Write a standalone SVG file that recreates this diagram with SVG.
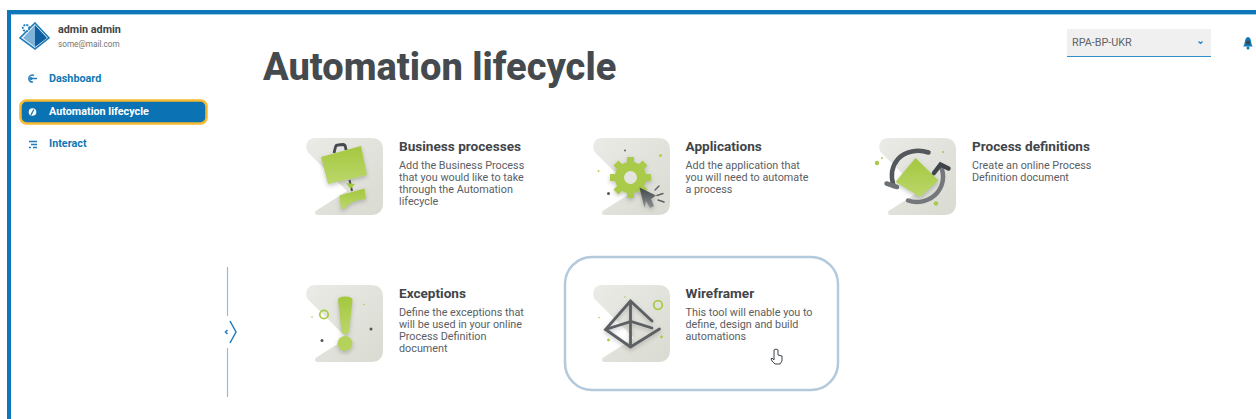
<svg xmlns="http://www.w3.org/2000/svg" width="1256" height="419" viewBox="0 0 1256 419">
<defs>
<linearGradient id="tile" x1="0" y1="0" x2="1" y2="1"><stop offset="0" stop-color="#ebebe7"/><stop offset="1" stop-color="#d9dad1"/></linearGradient>
<linearGradient id="green" x1="0" y1="0" x2="0" y2="1"><stop offset="0" stop-color="#a4c73e"/><stop offset="1" stop-color="#bbd76b"/></linearGradient>
<linearGradient id="dark" x1="0" y1="0" x2="0" y2="1"><stop offset="0" stop-color="#3f4448"/><stop offset="1" stop-color="#8f9294"/></linearGradient>
<filter id="sh" x="-30%" y="-30%" width="160%" height="160%"><feDropShadow dx="0" dy="2" stdDeviation="2" flood-color="#555" flood-opacity="0.35"/></filter>
<path id="tileshape" d="M8.500 0H65Q77 0 77 12V65Q77 77 65 77H12.500Q7.500 77 9.500 73L41 53L1.500 14Q-0.500 10 0.500 6Q2.500 0 8.500 0Z" fill="url(#tile)"/>
</defs>
<style>
text{font-family:Roboto,"Liberation Sans",sans-serif}
.h{font-size:13.6px;font-weight:700;fill:#3f4549}
.d{font-size:10.8px;fill:#5a6064}
.nav{font-size:10.8px;font-weight:700;fill:#0f77b5}
</style>
<rect width="1256" height="419" fill="#fff"/>
<g id="frame"><rect x="7" y="10" width="1249" height="4" fill="#0f77b9"/><rect x="11" y="14" width="1245" height="1" fill="#9fcbe6"/><rect x="7" y="10" width="4" height="409" fill="#0f77b9"/></g>
<g id="user">
<path d="M35 23L49 38L35 49L20 38Z" fill="#fff" stroke="#1f7dbb" stroke-width="1.600"/>
<path d="M35 25L23 38L35 47Z" fill="#7fb3da"/><path d="M35 25L47 38L35 47Z" fill="#0d5f9f"/>
<circle cx="26" cy="28" r="3.200" fill="#fff" stroke="#1f7dbb" stroke-width="1.800" stroke-dasharray="2 1"/>
<text x="58" y="33" font-size="10.800" font-weight="700" fill="#3f4549">admin admin</text>
<text x="58" y="47" font-size="8.200" fill="#6d7275">some@mail.com</text>
</g>
<g id="nav-dashboard"><path d="M37 78.500H31M34 75.500A3.500 3.500 0 1 0 33 82" fill="none" stroke="#1f7dbb" stroke-width="1.500"/><circle cx="31" cy="78.500" r="1.500" fill="#1f7dbb"/><text x="49" y="82" class="nav">Dashboard</text></g>
<g id="nav-lifecycle"><rect x="20.500" y="100.500" width="186" height="23" rx="6" fill="#0b73b4" stroke="#f8b92f" stroke-width="2.500"/><circle cx="32.500" cy="112" r="3.800" fill="#fff"/><path d="M32.500 112L34 109.500M32.500 112L31 115" stroke="#0b73b4" stroke-width="1.200"/><text x="49" y="115" font-size="10.800" font-weight="700" fill="#fff">Automation lifecycle</text></g>
<g id="nav-interact"><path d="M29 141.500H37M31 144.500H37M29 147.500H31M33 147.500H37" stroke="#1f7dbb" stroke-width="1.400"/><text x="49" y="147" class="nav">Interact</text></g>
<text id="title" x="263" y="80" font-size="38" font-weight="800" fill="#454a4e">Automation lifecycle</text>
<g id="selector"><rect x="1067" y="29" width="144" height="27" fill="#f0f0f0"/><rect x="1067" y="56" width="144" height="1" fill="#2e8fcb"/><text x="1072" y="46" font-size="10.800" fill="#5f6467">RPA-BP-UKR</text><path d="M1198.500 41.500L1200.500 43.500L1202.500 41.500" fill="none" stroke="#1f7dbb" stroke-width="1.200"/></g>
<g id="bell"><path d="M1243 46.500C1245.500 45 1244 37.500 1248 37C1252 37.500 1250.500 45 1253 46.500Z" fill="#0f77b5"/><circle cx="1248" cy="48" r="1.500" fill="#0f77b5"/><circle cx="1248" cy="42.500" r="2" fill="#3f4549"/></g>
<g id="collapse"><path d="M227.500 267V316M227.500 348V397" stroke="#8dbfdc" stroke-width="1.200"/><path d="M230 321L236 332L230 343" fill="none" stroke="#1f7dbb" stroke-width="1.500"/><path d="M227.500 330L225.500 332L227.500 334" fill="none" stroke="#1f7dbb" stroke-width="1.500"/></g>

<g id="card-business">
<use href="#tileshape" x="306" y="138"/>
<path d="M334 153L335.500 147Q336 145 338 145L343 144.500Q345 144.500 345.500 147L346 150" fill="none" stroke="#454a4e" stroke-width="2.800"/>
<path d="M321 157L361 146L367 175L328 184Z" fill="url(#green)" filter="url(#sh)"/>
<path d="M349.500 180L352 191" stroke="#454a4e" stroke-width="2"/><path d="M346 183L355 184L350.500 189Z" fill="#a6c83f"/>
<path d="M339.500 195.500L364.500 188.500L366 199Q351 200 344 209L341 209Z" fill="url(#green)" filter="url(#sh)"/>
<text x="399" y="151" class="h">Business processes</text>
<text x="399" y="168.700" class="d">Add the Business Process</text><text x="399" y="180.700" class="d">that you would like to take</text><text x="399" y="192.700" class="d">through the Automation</text><text x="399" y="204.700" class="d">lifecycle</text>
</g>
<g id="card-applications">
<use href="#tileshape" x="593" y="138"/>
<g filter="url(#sh)"><circle cx="630.500" cy="177.500" r="11" fill="none" stroke="#a9cb48" stroke-width="9.500"/>
<path d="M630.500 157V198M610 177.500H651M616 163L645 192M645 163L616 192" stroke="#a9cb48" stroke-width="7"/></g>
<circle cx="630.500" cy="177.500" r="6.500" fill="#e4e4de"/>
<path d="M639.500 187.500L656 195.500L651 199L654 206L650 208L646 201L644.500 208Z" fill="url(#dark)" filter="url(#sh)"/>
<path d="M655 190L659 186M657 195.500L663 193.500M658 200L664 202" stroke="#5b6064" stroke-width="1.400" stroke-linecap="round"/>
<circle cx="625" cy="150.500" r="1" fill="#666"/><circle cx="660.500" cy="155.500" r="1.600" fill="#b5d24e"/><circle cx="598.500" cy="171" r="1" fill="#b5d24e"/><circle cx="608.500" cy="193.500" r="1.500" fill="#555"/>
<text x="685.500" y="151" class="h">Applications</text>
<text x="685.500" y="168.700" class="d">Add the application that</text><text x="685.500" y="180.700" class="d">you will need to automate</text><text x="685.500" y="192.700" class="d">a process</text>
</g>
<g id="card-definitions">
<use href="#tileshape" x="879" y="138"/>
<path d="M915.500 158L938.500 180.500L920 197L895.500 182Z" fill="url(#green)" filter="url(#sh)"/>
<path d="M928.500 152.500C918 149 905 151 898 159C892 166 890.500 176 893.500 186" fill="none" stroke="#53585c" stroke-width="4.500" stroke-linecap="round"/>
<path d="M886.500 183.500L897 187" stroke="#6d7174" stroke-width="4.500" stroke-linecap="round"/>
<path d="M908 200.500C918 204 930 201 937 193C943 186 945 176 941 167" fill="none" stroke="#74787c" stroke-width="4.500" stroke-linecap="round"/>
<path d="M934 173L940.500 164.500L948.500 168.500" fill="none" stroke="#3f4549" stroke-width="4.500" stroke-linecap="round"/>
<circle cx="877" cy="163" r="2.200" fill="#a9cb48"/><circle cx="882" cy="158" r="1" fill="#a9cb48"/><circle cx="943" cy="152" r="1" fill="#a9cb48"/><circle cx="936" cy="203.500" r="2.200" fill="#a9cb48"/>
<text x="972" y="151" class="h">Process definitions</text>
<text x="972" y="168.700" class="d">Create an online Process</text><text x="972" y="180.700" class="d">Definition document</text>
</g>
<g id="card-exceptions">
<use href="#tileshape" x="306" y="285"/>
<path d="M338 300Q338 296.500 345 296.500Q352.500 296.500 352.500 300L349 332Q345 337 341.500 332Z" fill="url(#green)" filter="url(#sh)"/>
<circle cx="345" cy="343.500" r="7.500" fill="#b5d25c" filter="url(#sh)"/>
<circle cx="324" cy="314.500" r="4.200" fill="none" stroke="#a9cb48" stroke-width="1.800"/>
<circle cx="312" cy="317" r="0.800" fill="#a9cb48"/><circle cx="364" cy="304.500" r="0.800" fill="#a9cb48"/><circle cx="371" cy="329" r="1.500" fill="#555"/><circle cx="322" cy="340.500" r="1.500" fill="#555"/>
<text x="399" y="297.500" class="h">Exceptions</text>
<text x="399" y="315.500" class="d">Define the exceptions that</text><text x="399" y="327.500" class="d">will be used in your online</text><text x="399" y="339.500" class="d">Process Definition</text><text x="399" y="351.500" class="d">document</text>
</g>
<g id="card-wireframer">
<rect x="565" y="257" width="273" height="133" rx="27" fill="#fff" stroke="#b3c9dc" stroke-width="2.500"/>
<use href="#tileshape" x="593" y="285"/>
<path d="M630.500 301L605.500 329.500L630.500 347L659.500 329M630.500 301L652 321M630.500 301V347M605.500 329.500L631 321.500L652 328" fill="none" stroke="#5b6064" stroke-width="2.800" stroke-linecap="round" filter="url(#sh)"/>
<circle cx="658" cy="305" r="4.300" fill="none" stroke="#a9cb48" stroke-width="1.800"/>
<circle cx="625" cy="297" r="0.800" fill="#a9cb48"/><circle cx="599" cy="317.500" r="0.800" fill="#a9cb48"/><circle cx="608.500" cy="340" r="1.400" fill="#a9cb48"/><circle cx="661.500" cy="337" r="1.400" fill="#a9cb48"/>
<text x="685.500" y="297.500" class="h">Wireframer</text>
<text x="685.500" y="315.500" class="d">This tool will enable you to</text><text x="685.500" y="327.500" class="d">define, design and build</text><text x="685.500" y="339.500" class="d">automations</text>
<path d="M774 350V360L772 358Q770 358 772 361L775 364H780L782 361V356L778 355V350Q776 348 774 350Z" fill="#fff" stroke="#3f4549" stroke-width="1"/>
</g>
</svg>
